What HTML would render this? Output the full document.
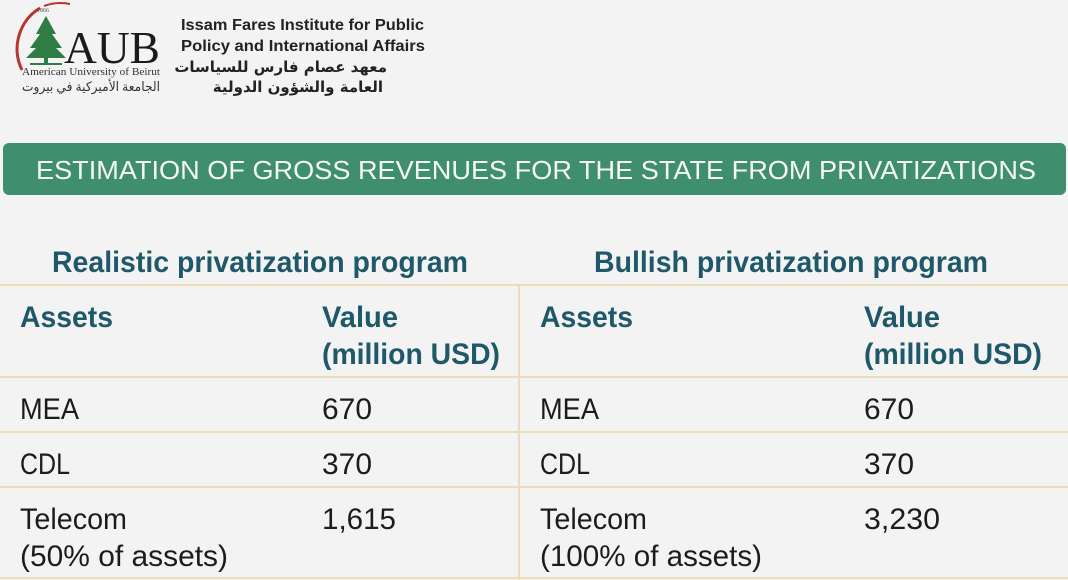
<!DOCTYPE html>
<html><head><meta charset="utf-8"><style>
html,body{margin:0;padding:0;background:#f3f3f3;}
svg{display:block}
</style></head><body>
<svg width="1068" height="580" viewBox="0 0 1068 580" xmlns="http://www.w3.org/2000/svg" font-family="Liberation Sans, sans-serif">
<rect width="1068" height="580" fill="#f3f3f3"/>
<!-- logo -->
<path d="M40 8 A48 48 0 0 0 22 70" fill="none" stroke="#b8342e" stroke-width="3"/>
<path d="M44 6 A48 48 0 0 1 70 4" fill="none" stroke="#b8342e" stroke-width="2"/>
<text x="37" y="12" font-size="6" font-family="Liberation Serif, serif" fill="#555">1866</text>
<polygon points="46,16 36,34 40,34 30,48 36,48 26,58 66,58 56,48 62,48 52,34 56,34" fill="#2f7d45"/>
<rect x="44" y="56" width="4" height="8" fill="#2f7d45"/>
<rect x="30" y="63" width="32" height="2" fill="#2f7d45"/>
<text x="64" y="63" font-size="46" font-family="Liberation Serif, serif" fill="#1a1a1a" textLength="96" lengthAdjust="spacingAndGlyphs">AUB</text>
<text x="22" y="75" font-size="10" font-family="Liberation Serif, serif" fill="#333" textLength="138" lengthAdjust="spacingAndGlyphs">American University of Beirut</text>
<text x="22" y="91" font-size="13" font-family="Liberation Serif, 'DejaVu Sans', serif" fill="#333" textLength="138" lengthAdjust="spacingAndGlyphs">الجامعة الأميركية في بيروت</text>
<g font-weight="bold" fill="#222" font-size="16">
<text x="181" y="30" textLength="243" lengthAdjust="spacingAndGlyphs">Issam Fares Institute for Public</text>
<text x="181" y="51" textLength="244" lengthAdjust="spacingAndGlyphs">Policy and International Affairs</text>
<text x="387" y="72" text-anchor="end" font-family="DejaVu Sans, sans-serif" font-size="15">معهد عصام فارس للسياسات</text>
<text x="383" y="92" text-anchor="end" font-family="DejaVu Sans, sans-serif" font-size="15">العامة والشؤون الدولية</text>
</g>
<!-- banner -->
<rect x="3" y="143" width="1063" height="52" rx="6" fill="#3f8e6e"/>
<text x="36" y="179" font-size="26" fill="#f4f7f5" textLength="1000" lengthAdjust="spacingAndGlyphs">ESTIMATION OF GROSS REVENUES FOR THE STATE FROM PRIVATIZATIONS</text>
<!-- headings -->
<g font-weight="bold" fill="#1f5868" font-size="30">
<text x="52" y="272" textLength="416" lengthAdjust="spacingAndGlyphs">Realistic privatization program</text>
<text x="594" y="272" textLength="394" lengthAdjust="spacingAndGlyphs">Bullish privatization program</text>
<text x="20" y="327" textLength="93" lengthAdjust="spacingAndGlyphs">Assets</text>
<text x="322" y="327" textLength="76" lengthAdjust="spacingAndGlyphs">Value</text>
<text x="322" y="364" textLength="178" lengthAdjust="spacingAndGlyphs">(million USD)</text>
<text x="540" y="327" textLength="93" lengthAdjust="spacingAndGlyphs">Assets</text>
<text x="864" y="327" textLength="76" lengthAdjust="spacingAndGlyphs">Value</text>
<text x="864" y="364" textLength="178" lengthAdjust="spacingAndGlyphs">(million USD)</text>
</g>
<!-- lines -->
<g stroke="#ecdcb8" stroke-width="2">
<line x1="0" y1="285" x2="1068" y2="285"/>
<line x1="0" y1="377" x2="1068" y2="377"/>
<line x1="0" y1="432" x2="1068" y2="432"/>
<line x1="0" y1="487" x2="1068" y2="487"/>
<line x1="0" y1="578" x2="1068" y2="578"/>
<line x1="519" y1="285" x2="519" y2="580"/>
</g>
<g fill="#1c1c1c" font-size="30">
<text x="20" y="419" textLength="59" lengthAdjust="spacingAndGlyphs">MEA</text>
<text x="322" y="419" textLength="50" lengthAdjust="spacingAndGlyphs">670</text>
<text x="20" y="474" textLength="50" lengthAdjust="spacingAndGlyphs">CDL</text>
<text x="322" y="474" textLength="50" lengthAdjust="spacingAndGlyphs">370</text>
<text x="20" y="529" textLength="107" lengthAdjust="spacingAndGlyphs">Telecom</text>
<text x="20" y="566" textLength="208" lengthAdjust="spacingAndGlyphs">(50% of assets)</text>
<text x="322" y="529" textLength="74" lengthAdjust="spacingAndGlyphs">1,615</text>
<text x="540" y="419" textLength="59" lengthAdjust="spacingAndGlyphs">MEA</text>
<text x="864" y="419" textLength="50" lengthAdjust="spacingAndGlyphs">670</text>
<text x="540" y="474" textLength="50" lengthAdjust="spacingAndGlyphs">CDL</text>
<text x="864" y="474" textLength="50" lengthAdjust="spacingAndGlyphs">370</text>
<text x="540" y="529" textLength="107" lengthAdjust="spacingAndGlyphs">Telecom</text>
<text x="540" y="566" textLength="222" lengthAdjust="spacingAndGlyphs">(100% of assets)</text>
<text x="864" y="529" textLength="76" lengthAdjust="spacingAndGlyphs">3,230</text>
</g>
</svg>
</body></html>
